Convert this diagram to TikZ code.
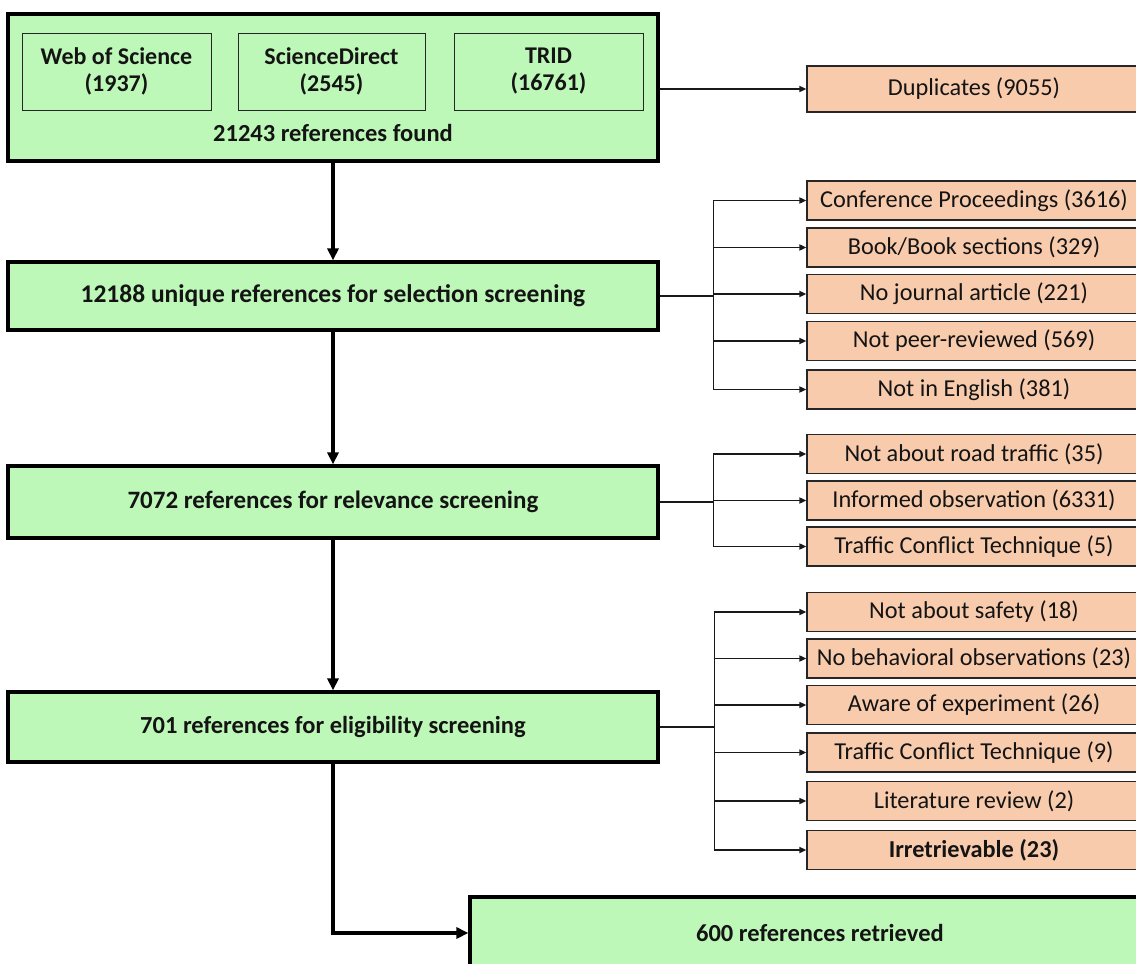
\documentclass[tikz,border=0pt]{standalone}
\usepackage{fontspec}
\setmainfont{Carlito}
\usetikzlibrary{arrows.meta}
\definecolor{gfill}{RGB}{190,248,184}
\definecolor{ofill}{RGB}{248,203,173}
\definecolor{txt}{RGB}{20,20,20}
\begin{document}
\begin{tikzpicture}[x=1pt,y=-1pt,
  mainbox/.style={draw=black,line width=3.2pt,fill=gfill,inner sep=0pt,text=txt,font=\fontsize{24.5}{28}\selectfont\bfseries},
  srcbox/.style={draw=black!85,line width=1pt,fill=gfill,inner sep=0pt,minimum height=77pt,align=center,text=txt,font=\fontsize{24}{27}\selectfont\bfseries},
  exbox/.style={draw=black!85,line width=1.2pt,fill=ofill,inner sep=0pt,minimum width=334pt,minimum height=39pt,text=txt,font=\fontsize{24.3}{27}\selectfont},
  mainarrow/.style={line width=3.2pt,-{Triangle[length=12pt,width=11pt]}},
  exarrow/.style={line width=1.6pt,draw=black!90,-{Triangle[length=7pt,width=6pt]}},
  exline/.style={line width=1.6pt,draw=black!90}]
\useasboundingbox (0,0) rectangle (1136,964);
\clip (0,0) rectangle (1136,964);
% main boxes
\node[mainbox,minimum width=650pt,minimum height=147pt] (b1) at (333,87.5) {};
\node[srcbox,minimum width=189pt] (wos) at (116.5,71.5) {Web of Science\\(1937)};
\node[srcbox,minimum width=187pt] (sd) at (331.5,71.5) {ScienceDirect\\(2545)};
\node[srcbox,minimum width=189pt] (trid) at (548.5,71.5) {TRID\\(16761)};
\node[text=txt,font=\fontsize{24.5}{28}\selectfont\bfseries] (found) at (333,133) {21243 references found};
\node[mainbox,minimum width=650pt,minimum height=68pt,font=\fontsize{25.5}{28}\selectfont\bfseries] (b2) at (333,296) {12188 unique references for selection screening};
\node[mainbox,minimum width=650pt,minimum height=72pt,font=\fontsize{25}{28}\selectfont\bfseries] (b3) at (333,502) {7072 references for relevance screening};
\node[mainbox,minimum width=650pt,minimum height=70pt] (b4) at (333,727) {701 references for eligibility screening};
\node[mainbox,minimum width=700pt,minimum height=72pt] (fin) at (820,933) {600 references retrieved};
% exclusion boxes
\node[exbox,minimum height=46pt] (dup) at (974,89) {Duplicates (9055)};
\node[exbox] (c1) at (974,200.5) {Conference Proceedings (3616)};
\node[exbox] (c2) at (974,247.5) {Book/Book sections (329)};
\node[exbox] (c3) at (974,294) {No journal article (221)};
\node[exbox] (c4) at (974,341) {Not peer-reviewed (569)};
\node[exbox] (c5) at (974,389.5) {Not in English (381)};
\node[exbox] (r1) at (974,454) {Not about road traffic (35)};
\node[exbox] (r2) at (974,500.5) {Informed observation (6331)};
\node[exbox] (r3) at (974,546.5) {Traffic Conflict Technique (5)};
\node[exbox] (e1) at (974,612) {Not about safety (18)};
\node[exbox] (e2) at (974,658.5) {No behavioral observations (23)};
\node[exbox] (e3) at (974,705) {Aware of experiment (26)};
\node[exbox] (e4) at (974,752.5) {Traffic Conflict Technique (9)};
\node[exbox] (e5) at (974,801) {Literature review (2)};
\node[exbox,font=\fontsize{24.3}{27}\selectfont\bfseries] (e6) at (974,850) {Irretrievable (23)};
% main flow
\draw[mainarrow] (b1.south) -- (b2.north);
\draw[mainarrow] (b2.south) -- (b3.north);
\draw[mainarrow] (b3.south) -- (b4.north);
\draw[mainarrow] (b4.south) |- (fin.west);
% duplicates
\draw[exarrow] (b1.east |- dup.west) -- (dup.west);
% branches
\coordinate (j2) at ([xshift=54pt]b2.east);
\coordinate (j3) at ([xshift=54pt]b3.east);
\coordinate (j4) at ([xshift=55pt]b4.east);
\draw[exline] (b2.east) -- (j2);
\draw[exline] (b3.east) -- (j3);
\draw[exline] (b4.east) -- (j4);
\foreach \c in {c1,c2,c3,c4,c5} \draw[exarrow] (j2) |- (\c.west);
\foreach \c in {r1,r2,r3} \draw[exarrow] (j3) |- (\c.west);
\foreach \c in {e1,e2,e3,e4,e5,e6} \draw[exarrow] (j4) |- (\c.west);
\end{tikzpicture}
\end{document}
